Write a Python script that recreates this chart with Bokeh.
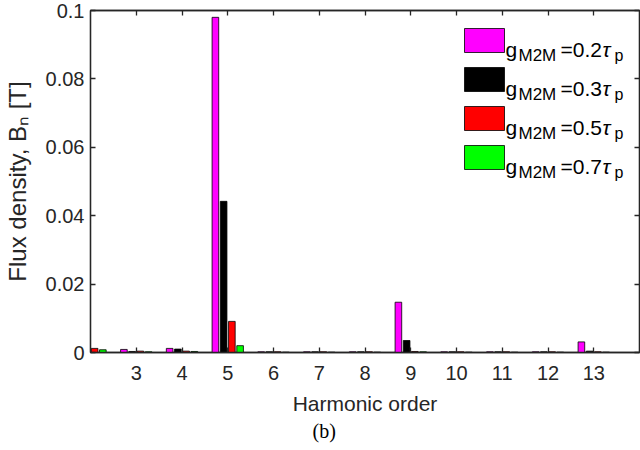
import math
from bokeh.plotting import figure
from bokeh.models import (ColumnDataSource, FixedTicker, LinearAxis, Range1d,
                          Label, Legend, LegendItem, Title)
from bokeh.transform import dodge
from bokeh.embed import file_html
from bokeh.resources import INLINE

# ---------------- data ----------------
harmonics = [2, 3, 4, 5, 6, 7, 8, 9, 10, 11, 12, 13]
b_g02 = [0.0010, 0.0009, 0.0012, 0.0980, 0.0002, 0.0002, 0.0002, 0.0147, 0.0002, 0.0002, 0.0002, 0.0031]
b_g03 = [0.0005, 0.0003, 0.0010, 0.0442, 0.0002, 0.0002, 0.0002, 0.0035, 0.0002, 0.0002, 0.0002, 0.0004]
b_g05 = [0.0012, 0.0004, 0.0004, 0.0091, 0.0002, 0.0002, 0.0002, 0.0003, 0.0002, 0.0002, 0.0002, 0.0002]
b_g07 = [0.0008, 0.0002, 0.0003, 0.0020, 0.0001, 0.0001, 0.0001, 0.0002, 0.0001, 0.0001, 0.0001, 0.0001]
gap_values = ["0.2", "0.3", "0.5", "0.7"]
series_cols = ["g02", "g03", "g05", "g07"]
colors = ["#ff00ff", "#000000", "#ff0000", "#00ff00"]
x_ticks = [3, 4, 5, 6, 7, 8, 9, 10, 11, 12, 13]
y_ticks = [0, 0.02, 0.04, 0.06, 0.08, 0.1]
y_tick_labels = ["0", "0.02", "0.04", "0.06", "0.08", "0.1"]
x_label = "Harmonic order"
y_label = "Flux density, B\u2099 [T]"
caption = "(b)"

# ---------------- layout ----------------
X0, X1 = 2, 14
Y0, Y1 = 0, 0.1
FL, FT, FW, FH = 90, 10, 549, 342   # frame in page px
FB = FT + FH
AX = "#262626"
FONT = "Liberation Sans"

def px2x(px):
    return X0 + (px - FL) * (X1 - X0) / FW

def py2y(py):
    return Y0 + (FB - py) * (Y1 - Y0) / FH

src = ColumnDataSource(dict(h=harmonics, g02=b_g02, g03=b_g03, g05=b_g05, g07=b_g07))

p = figure(frame_width=FW, frame_height=FH,
           x_range=Range1d(X0, X1), y_range=Range1d(Y0, Y1),
           output_backend="svg", toolbar_location=None,
           min_border_left=FL, min_border_right=1,
           min_border_top=FT, min_border_bottom=96,
           background_fill_color="white", border_fill_color="white")
p.xgrid.visible = False
p.ygrid.visible = False
p.outline_line_color = AX
p.outline_line_width = 1.3

offsets = [-0.27, -0.09, 0.09, 0.27]
renderers = []
for col, off, c in zip(series_cols, offsets, colors):
    r = p.vbar(x=dodge("h", off, range=p.x_range), top=col, bottom=0, width=0.145,
               source=src, fill_color=c, line_color="black", line_width=0.8)
    renderers.append(r)

def style_axis(ax, show_labels):
    ax.axis_line_color = AX
    ax.axis_line_width = 1.3
    ax.major_tick_line_color = AX
    ax.major_tick_line_width = 1.3
    ax.major_tick_in = 5
    ax.major_tick_out = 0
    ax.minor_tick_line_color = None
    ax.major_label_text_color = AX
    ax.major_label_text_font = FONT
    ax.major_label_text_font_size = "20px" if show_labels else "0px"
    if not show_labels:
        ax.major_label_standoff = 0

xax = p.xaxis[0]
yax = p.yaxis[0]
xax.ticker = FixedTicker(ticks=x_ticks)
yax.ticker = FixedTicker(ticks=y_ticks)
yax.major_label_overrides = {t: s for t, s in zip(y_ticks, y_tick_labels)}
style_axis(xax, True)
style_axis(yax, True)
xax.major_label_standoff = 13
yax.major_label_standoff = 6
xax.axis_label = x_label
xax.axis_label_text_font = FONT
xax.axis_label_text_font_size = "21px"
xax.axis_label_text_font_style = "normal"
xax.axis_label_text_color = AX
xax.axis_label_standoff = 9
yax.axis_label = y_label
yax.axis_label_text_font = FONT
yax.axis_label_text_font_size = "24px"
yax.axis_label_text_font_style = "normal"
yax.axis_label_text_color = AX
yax.axis_label_standoff = 12

top_ax = LinearAxis(ticker=FixedTicker(ticks=x_ticks))
right_ax = LinearAxis(ticker=FixedTicker(ticks=y_ticks))
style_axis(top_ax, False)
style_axis(right_ax, False)
top_ax.major_label_overrides = {t: "" for t in x_ticks}
right_ax.major_label_overrides = {t: "" for t in y_ticks}
p.add_layout(top_ax, "above")
p.add_layout(right_ax, "right")

# caption below the axis title
p.add_layout(Title(text=caption, align="left", offset=222, standoff=0,
                   text_font="Liberation Serif", text_font_size="20px",
                   text_font_style="normal", text_color="black"), "below")

# legend (swatches via Bokeh legend, texts composed with sub-scripts)
legend = Legend(items=[LegendItem(label=" ", renderers=[r]) for r in renderers],
                location="top_right", glyph_width=50, glyph_height=30,
                label_width=110, label_height=30, spacing=9, padding=19, margin=15,
                label_standoff=5, border_line_color=None,
                background_fill_alpha=0.0, label_text_font_size="8px")
p.add_layout(legend)

row_pitch = 39
for i, gv in enumerate(gap_values):
    base = 49 + i * row_pitch
    pieces = [
        ("g", 505, base, "21px", "normal"),
        ("M2M", 518, base + 6, "17px", "normal"),
        ("=" + gv, 560, base, "21px", "normal"),
        ("\u03c4", 602, base, "21px", "italic"),
        ("p", 614, base + 6, "16px", "normal"),
    ]
    for txt, xp, yp, fs, st in pieces:
        p.add_layout(Label(x=px2x(xp), y=py2y(yp), text=txt, text_font=FONT,
                           text_font_size=fs, text_font_style=st, text_color="black",
                           text_align="left", text_baseline="alphabetic",
                           level="overlay"))

open("out.html", "w").write(file_html(p, INLINE))
